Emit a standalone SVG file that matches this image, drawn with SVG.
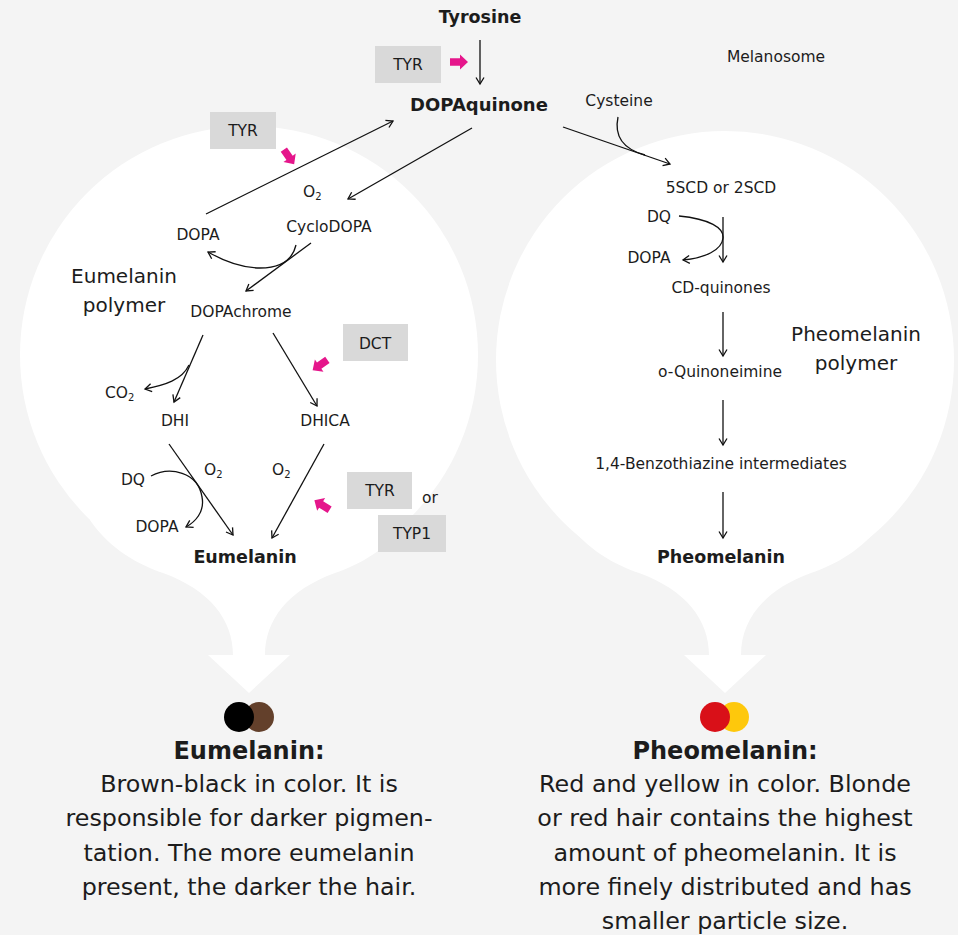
<svg xmlns="http://www.w3.org/2000/svg" width="958" height="935" viewBox="0 0 958 935">
<style>
text{font-family:"DejaVu Sans","Liberation Sans",sans-serif;fill:#1c1c1c}
.s{font-size:15.5px}
.m{font-size:20px}
.b{font-weight:bold}
.c{text-anchor:middle}
.sub{font-size:10px}
.body{font-size:23.8px}
.ln{fill:none;stroke:#111;stroke-width:1.3;marker-end:url(#ah)}
.box{fill:#d9d9d9}
.bulb{fill:#ffffff}
.mag{fill:#e5168b}
</style>
<defs>
<marker id="ah" markerUnits="userSpaceOnUse" markerWidth="12" markerHeight="12" viewBox="-8 -6 10 12" refX="0" refY="0" orient="auto">
<path d="M-6.5,-4 L0,0 L-6.5,4" fill="none" stroke="#111" stroke-width="1.3"/>
</marker>
<path id="barrow" d="M-9,-3.8 L1,-3.8 L1,-7.5 L9,0 L1,7.5 L1,3.8 L-9,3.8 Z"/>
</defs>
<rect width="958" height="935" fill="#f4f4f4"/>

<g id="bulb-left">
<circle class="bulb" cx="249" cy="355" r="229"/>
<path class="bulb" d="M90 520 C110 550 140 565 163 573 C210 590 233 620 233 655 L208 655 L249 693 L290 655 L265 655 C265 620 288 590 335 573 C358 565 388 550 408 520 Z"/>
</g>
<g id="bulb-right">
<circle class="bulb" cx="725" cy="360" r="229"/>
<path class="bulb" d="M566 520 C586 550 616 565 639 573 C686 590 709 620 709 655 L684 655 L725 693 L766 655 L741 655 C741 620 764 590 811 573 C834 565 864 550 884 520 Z"/>
</g>

<g id="connectors">
<line class="ln" x1="480" y1="40" x2="480" y2="84"/>
<line class="ln" x1="206" y1="214" x2="393" y2="121"/>
<line class="ln" x1="472" y1="128" x2="348" y2="199"/>
<line class="ln" x1="311" y1="243" x2="246" y2="291"/>
<path class="ln" d="M296 245 C292 262 278 268 260 268 C240 268 222 260 208 252"/>
<line class="ln" x1="203" y1="335" x2="174" y2="402"/>
<path class="ln" d="M189 365 C182 380 165 385 145 389"/>
<line class="ln" x1="273" y1="333" x2="317" y2="406"/>
<line class="ln" x1="169" y1="444" x2="233" y2="535"/>
<path class="ln" d="M151 476 C170 466 198 472 202 497 C205 512 195 522 186 527"/>
<line class="ln" x1="324" y1="444" x2="272" y2="538"/>
<line class="ln" x1="563" y1="127" x2="670" y2="164"/>
<path fill="none" stroke="#111" stroke-width="1.3" d="M618 117 Q612 146 645 155"/>
<line class="ln" x1="723" y1="217" x2="723" y2="262"/>
<path class="ln" d="M679 216 C710 219 724 228 723 238 C722 250 705 258 683 260"/>
<line class="ln" x1="723" y1="312" x2="723" y2="356"/>
<line class="ln" x1="723" y1="400" x2="723" y2="445"/>
<line class="ln" x1="723" y1="492" x2="723" y2="538"/>
</g>

<g id="enzymes">
<g id="tyr-top"><rect class="box" x="375" y="46" width="66" height="37"/><text class="s c" x="408" y="70">TYR</text><use href="#barrow" class="mag" transform="translate(459 62)"/></g>
<g id="tyr-left"><rect class="box" x="210" y="112" width="66" height="37"/><text class="s c" x="243" y="136">TYR</text><use href="#barrow" class="mag" transform="translate(289 157) rotate(55)"/></g>
<g id="dct"><rect class="box" x="343" y="324" width="65" height="37"/><text class="s c" x="375" y="349">DCT</text><use href="#barrow" class="mag" transform="translate(320 365) rotate(145)"/></g>
<g id="tyr-low"><rect class="box" x="347" y="472" width="65" height="37"/><text class="s c" x="380" y="496">TYR</text><use href="#barrow" class="mag" transform="translate(322 505) rotate(212)"/></g>
<text class="s c" x="430" y="503">or</text>
<g id="typ1"><rect class="box" x="378" y="515" width="68" height="37"/><text class="s c" x="412" y="539">TYP1</text></g>
</g>

<g id="n-tyrosine"><text class="b c" style="font-size:17.5px" x="480" y="23">Tyrosine</text></g>
<g id="n-dopaquinone"><text class="b c" style="font-size:18px" x="479" y="111">DOPAquinone</text></g>
<g id="n-melanosome"><text class="s c" x="776" y="62">Melanosome</text></g>
<g id="n-cysteine"><text class="s c" x="619" y="106">Cysteine</text></g>
<g id="n-o2a"><text class="s" x="303" y="197">O<tspan class="sub" dy="3">2</tspan></text></g>
<g id="n-dopa1"><text class="s c" x="198" y="240">DOPA</text></g>
<g id="n-cyclodopa"><text class="s c" x="329" y="232">CycloDOPA</text></g>
<g id="n-eupoly"><text class="m c" x="124" y="283">Eumelanin</text><text class="m c" x="124" y="312">polymer</text></g>
<g id="n-dopachrome"><text class="s c" x="241" y="317">DOPAchrome</text></g>
<g id="n-co2"><text class="s" x="105" y="398">CO<tspan class="sub" dy="3">2</tspan></text></g>
<g id="n-dhi"><text class="s c" x="175" y="426">DHI</text></g>
<g id="n-dhica"><text class="s c" x="325" y="426">DHICA</text></g>
<g id="n-dq1"><text class="s c" x="133" y="485">DQ</text></g>
<g id="n-o2b"><text class="s" x="204" y="475">O<tspan class="sub" dy="3">2</tspan></text></g>
<g id="n-o2c"><text class="s" x="272" y="475">O<tspan class="sub" dy="3">2</tspan></text></g>
<g id="n-dopa2"><text class="s c" x="157" y="532">DOPA</text></g>
<g id="n-eumelanin"><text class="b c" style="font-size:17.5px" x="245" y="563">Eumelanin</text></g>

<g id="n-5scd"><text class="s c" x="721" y="193">5SCD or 2SCD</text></g>
<g id="n-dq2"><text class="s c" x="659" y="222">DQ</text></g>
<g id="n-dopa3"><text class="s c" x="649" y="263">DOPA</text></g>
<g id="n-cdq"><text class="s c" x="721" y="293">CD-quinones</text></g>
<g id="n-pheopoly"><text class="m c" x="856" y="341">Pheomelanin</text><text class="m c" x="856" y="370">polymer</text></g>
<g id="n-oqi"><text class="s c" x="720" y="377">o-Quinoneimine</text></g>
<g id="n-bzt"><text class="s c" x="721" y="469">1,4-Benzothiazine intermediates</text></g>
<g id="n-pheomelanin"><text class="b c" style="font-size:17.5px" x="721" y="563">Pheomelanin</text></g>

<g id="legend-eu">
<circle cx="259" cy="717" r="15" fill="#63402b"/>
<circle cx="239" cy="717" r="15" fill="#000"/>
<text class="b c" style="font-size:24px" x="249" y="759">Eumelanin:</text>
<text class="body c" x="249" y="792">Brown-black in color. It is</text>
<text class="body c" x="249" y="826">responsible for darker pigmen-</text>
<text class="body c" x="249" y="861">tation. The more eumelanin</text>
<text class="body c" x="249" y="895">present, the darker the hair.</text>
</g>
<g id="legend-pheo">
<circle cx="734" cy="717" r="15" fill="#fec80c"/>
<circle cx="715" cy="717" r="15" fill="#d91018"/>
<text class="b c" style="font-size:24px" x="725" y="759">Pheomelanin:</text>
<text class="body c" x="725" y="792">Red and yellow in color. Blonde</text>
<text class="body c" x="725" y="826">or red hair contains the highest</text>
<text class="body c" x="725" y="861">amount of pheomelanin. It is</text>
<text class="body c" x="725" y="895">more finely distributed and has</text>
<text class="body c" x="725" y="929">smaller particle size.</text>
</g>
</svg>
